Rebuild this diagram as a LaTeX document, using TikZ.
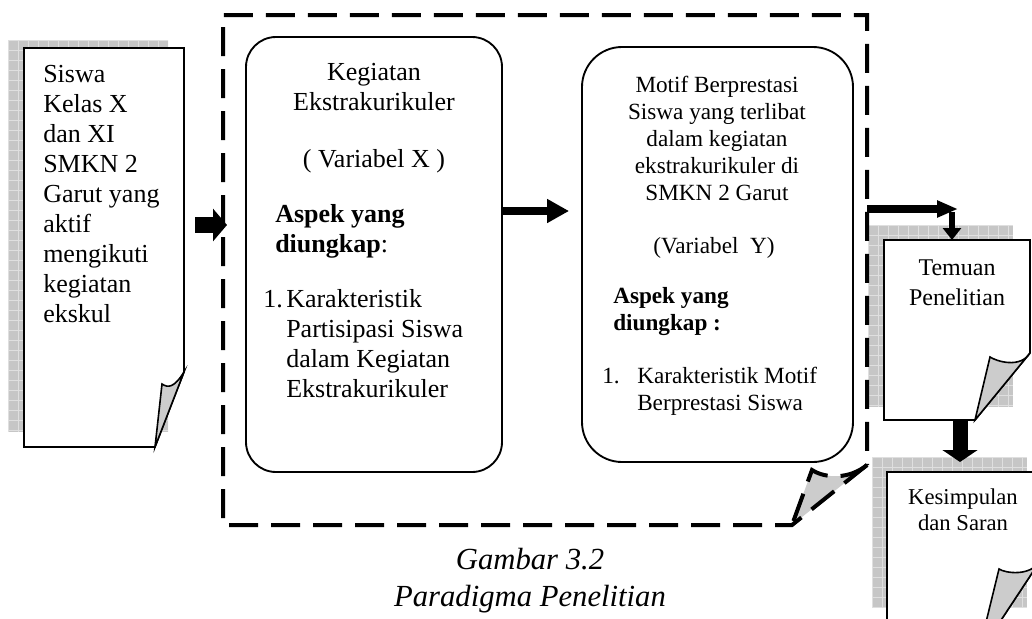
\documentclass[tikz,border=0pt]{standalone}
\usepackage{fontspec}
\setmainfont{Liberation Serif}
\usetikzlibrary{arrows.meta}
\definecolor{foldgray}{gray}{0.80}
\newcommand{\shgrid}[4]{%
  \begin{scope}
    \clip (#1,#2) rectangle (#3,#4);
    \fill[gridfill] (#1,#2) rectangle (#3,#4);
    \foreach \gi in {0,...,40}{
      \draw[gridline] ({#1+\gi*10},#2) -- ({#1+\gi*10},#4);
      \draw[gridline] (#1,{#2+\gi*10}) -- (#3,{#2+\gi*10});
    }
  \end{scope}}
\newcommand{\docpaper}[8]{%
  \filldraw[docline, fill=white] (#1,#2) -- (#3,#2) -- (#3,#5) -- (#6,#4) -- (#1,#4) -- cycle;
  \filldraw[docline, fill=foldgray] (#3,#5) .. controls ({#3-10},{#5+16}) and ({#7+6},{#8+4}) .. (#7,#8) -- (#6,#4) -- cycle;}
\begin{document}
\begin{tikzpicture}[x=0.75pt,y=-0.75pt,
  gridfill/.style={fill=gray!45},
  gridline/.style={draw=gray!25, line width=0.5pt},
  docline/.style={draw=black, line width=1.2pt, line join=miter},
  roundbox/.style={draw=black, line width=1.4pt, rectangle, inner sep=0pt},
  dashbox/.style={draw=black, line width=3pt, dash pattern=on 21.75pt off 9.75pt},
  txtA/.style={font=\fontsize{19.5}{22}\selectfont, inner sep=0pt},
  txtB/.style={font=\fontsize{17.4}{20}\selectfont, inner sep=0pt},
  txtT/.style={font=\fontsize{18}{21}\selectfont, inner sep=0pt},
  txtK/.style={font=\fontsize{17}{20}\selectfont, inner sep=0pt},
  txtC/.style={font=\fontsize{23}{27}\selectfont\itshape, inner sep=0pt},
  arrA/.style={line width=12pt, -{Triangle[length=10.5pt, width=24pt]}},
  arrB/.style={line width=6pt, -{Triangle[length=16.5pt, width=17pt]}},
  arrC/.style={line width=6pt, -{Triangle[length=15.75pt, width=12pt]}},
  arrD/.style={line width=5pt, -{Triangle[length=9pt, width=13.5pt]}},
  arrE/.style={line width=11.25pt, -{Triangle[length=9pt, width=26pt]}}
]
\useasboundingbox (0,0) rectangle (1032,618);
\fill[white] (0,0) rectangle (1032,618);

% shadows
\shgrid{8}{40}{168}{432}
\shgrid{868}{225}{1013}{407}
\shgrid{872}{457}{1027}{608}

% document papers
\docpaper{24}{48}{184}{447}{372}{155}{162}{384}
\docpaper{884}{240}{1030}{420}{353}{975}{990}{357}
\docpaper{887}{472}{1040}{655}{561}{978}{999}{569}

% big dashed frame with folded corner
\fill[foldgray] (867,465) .. controls (850,479) and (826,479) .. (812,470) -- (792,525) -- cycle;
\draw[dashbox] (867,465) -- (792,525) -- (223,525) -- (223,15) -- (867,15) -- cycle;
\draw[dashbox] (867,465) .. controls (850,479) and (826,479) .. (812,470) -- (792,525);

% rounded boxes
\node[roundbox, rounded corners=22.5pt, minimum width=192pt, minimum height=326.25pt] (box1) at (374,254.5) {};
\node[roundbox, rounded corners=30pt, minimum width=203.25pt, minimum height=311.25pt] (box2) at (717.5,254.5) {};

% left document text
\foreach \t [count=\i] in {Siswa, Kelas X, dan XI, SMKN 2, Garut yang, aktif, mengikuti, kegiatan, ekskul}
  \node[txtA, anchor=base west, name=siswa\i] at (43,{52+30*\i}) {\t};

% box 1 text
\node[txtA, anchor=base] (k1) at (374,80) {Kegiatan};
\node[txtA, anchor=base] (k2) at (374,110) {Ekstrakurikuler};
\node[txtA, anchor=base] (k3) at (374,167) {( Variabel X )};
\node[txtA, anchor=base west] (k4) at (275,222) {\textbf{Aspek yang}};
\node[txtA, anchor=base west] (k5) at (275,252) {\textbf{diungkap}:};
\node[txtA, anchor=base west] (k6) at (263,307) {1.};
\node[txtA, anchor=base west] (k7) at (286,307) {Karakteristik};
\node[txtA, anchor=base west] (k8) at (286,337) {Partisipasi Siswa};
\node[txtA, anchor=base west] (k9) at (286,367) {dalam Kegiatan};
\node[txtA, anchor=base west] (k10) at (286,397) {Ekstrakurikuler};

% box 2 text
\node[txtB, anchor=base] (m1) at (717,92) {Motif Berprestasi};
\node[txtB, anchor=base] (m2) at (717,119) {Siswa yang terlibat};
\node[txtB, anchor=base] (m3) at (717,146) {dalam kegiatan};
\node[txtB, anchor=base] (m4) at (717,173) {ekstrakurikuler di};
\node[txtB, anchor=base] (m5) at (717,200) {SMKN 2 Garut};
\node[txtB, anchor=base] (m6) at (714,253) {(Variabel\ \ Y)};
\node[txtB, anchor=base west] (m7) at (613,303) {\textbf{Aspek yang}};
\node[txtB, anchor=base west] (m8) at (613,330) {\textbf{diungkap :}};
\node[txtB, anchor=base west] (m9) at (602,383) {1.};
\node[txtB, anchor=base west] (m10) at (637,383) {Karakteristik Motif};
\node[txtB, anchor=base west] (m11) at (637,410) {Berprestasi Siswa};

% right documents text
\node[txtT, anchor=base] (t1) at (957,275) {Temuan};
\node[txtT, anchor=base] (t2) at (957,305) {Penelitian};
\node[txtK, anchor=base] (s1) at (963,504) {Kesimpulan};
\node[txtK, anchor=base] (s2) at (963,530) {dan Saran};

% caption
\node[txtC, anchor=base] (c1) at (530,569) {Gambar 3.2};
\node[txtC, anchor=base] (c2) at (530,606) {Paradigma Penelitian};

% arrow end points
\coordinate (a1s) at (195,225);
\coordinate (a1e) at (227,225);
\coordinate (a3s) at (867,209);
\coordinate (a3e) at (958,209);
\coordinate (a4s) at (952,212);
\coordinate (a4e) at (952,240);
\coordinate (a5s) at (960,420);
\coordinate (a5e) at (960,462);

\draw[arrA] (a1s) -- (a1e);
\draw[arrB] (box1.east |- 0,211) -- ([xshift=-9pt]box2.west |- 0,211);
\draw[arrC] (a3s) -- (a3e);
\draw[arrD] (a4s) -- (a4e);
\draw[arrE] (a5s) -- (a5e);
\end{tikzpicture}
\end{document}
